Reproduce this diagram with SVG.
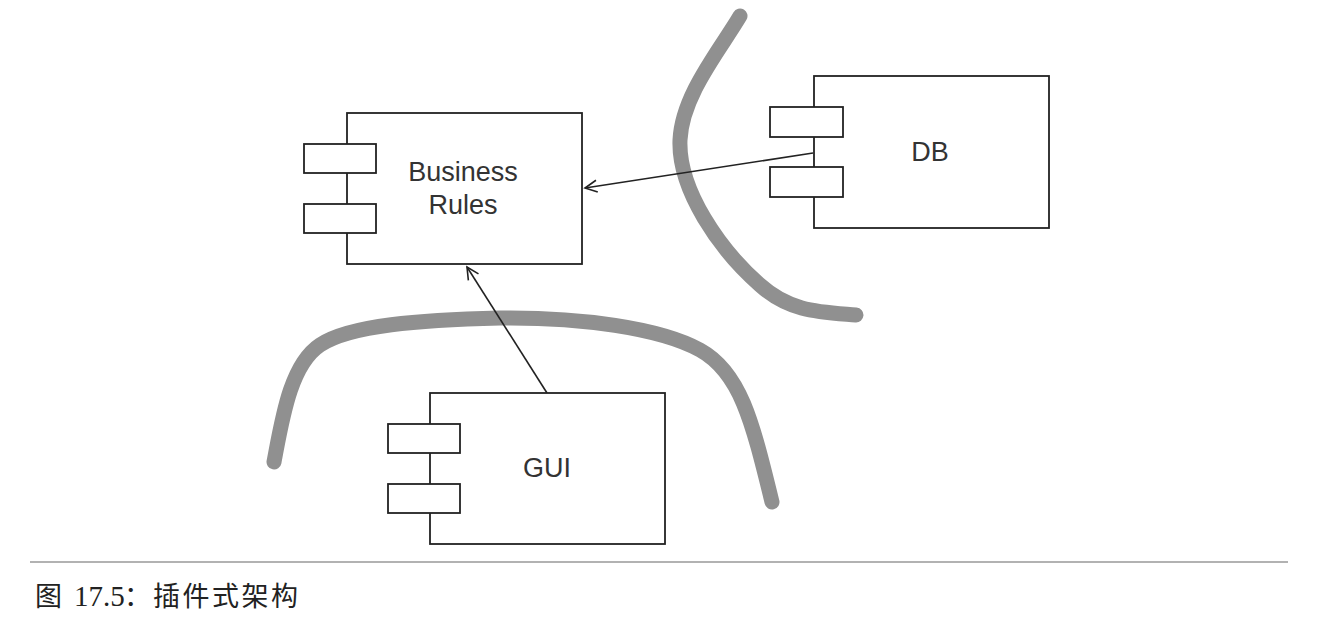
<svg xmlns="http://www.w3.org/2000/svg" width="1338" height="626" viewBox="0 0 1338 626">
<style>
.box{fill:#fff;stroke:#222;stroke-width:1.8}
.lbl{font-family:"Liberation Sans",Arial,sans-serif;font-size:27px;fill:#333;text-anchor:middle}
.wall{fill:none;stroke:#909090;stroke-width:15;stroke-linecap:round;stroke-linejoin:round}
.conn{fill:none;stroke:#222;stroke-width:1.6}
.cap{font-family:"Liberation Serif","Noto Sans CJK SC",serif;font-size:27px;fill:#222}
</style>
<defs>
<marker id="open" markerWidth="16" markerHeight="14" refX="13" refY="7" orient="auto" markerUnits="userSpaceOnUse">
<path d="M1,1 L13,7 L1,13" fill="none" stroke="#222" stroke-width="1.6"/>
</marker>
</defs>
<rect width="1338" height="626" fill="#fff"/>
<g id="boundaries">
<path class="wall" d="M740,16 C720,50 682,95 680,140 C678,190 720,250 760,285 C790,312 820,312 856,315"/>
<path class="wall" d="M274,462 C282,420 290,365 320,345 C350,325 420,320 500,318 C580,317 660,328 700,350 C740,372 752,420 772,502"/>
</g>
<g id="connectors">
<line class="conn" x1="813" y1="153" x2="585" y2="188" marker-end="url(#open)"/>
<line class="conn" x1="547" y1="393" x2="467" y2="267" marker-end="url(#open)"/>
</g>
<g id="business-rules">
<rect class="box" x="347" y="113" width="235" height="151"/>
<rect class="box" x="304" y="144" width="72" height="29"/>
<rect class="box" x="304" y="204" width="72" height="29"/>
<text class="lbl" x="463" y="181">Business</text>
<text class="lbl" x="463" y="214">Rules</text>
</g>
<g id="db">
<rect class="box" x="814" y="76" width="235" height="152"/>
<rect class="box" x="770" y="107" width="73" height="30"/>
<rect class="box" x="770" y="167" width="73" height="30"/>
<text class="lbl" x="930" y="161">DB</text>
</g>
<g id="gui">
<rect class="box" x="430" y="393" width="235" height="151"/>
<rect class="box" x="388" y="424" width="72" height="29"/>
<rect class="box" x="388" y="484" width="72" height="29"/>
<text class="lbl" x="547" y="477">GUI</text>
</g>
<g id="caption">
<line x1="30" y1="562" x2="1288" y2="562" stroke="#999" stroke-width="1.5"/>
<text class="cap" y="606"><tspan x="35">图</tspan><tspan x="74" font-size="29">17.5</tspan><tspan x="124">：</tspan><tspan x="153" letter-spacing="2.5">插件式架构</tspan></text>
</g>
</svg>
